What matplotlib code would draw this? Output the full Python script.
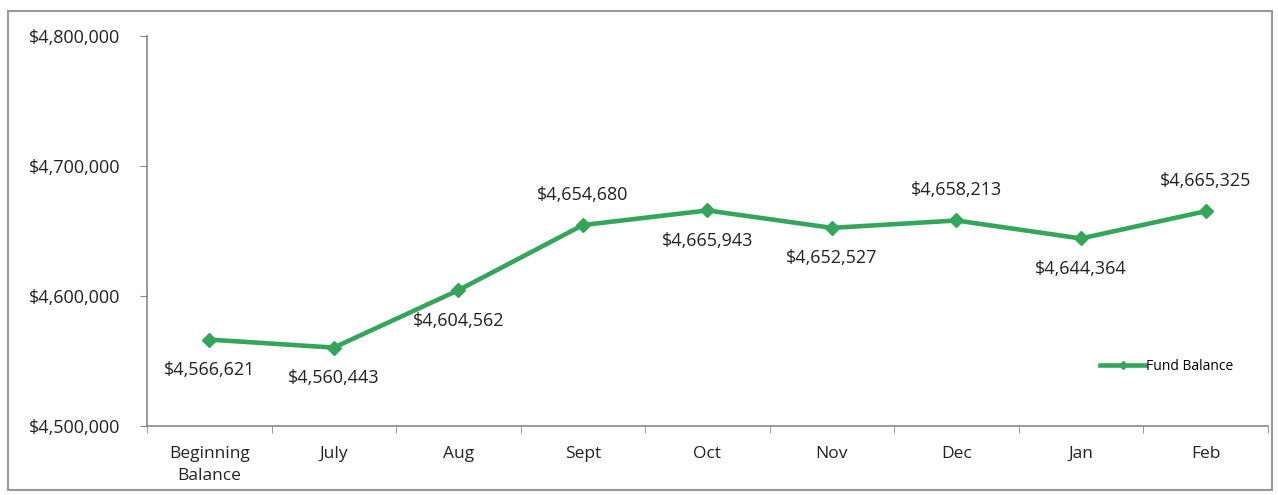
import matplotlib.pyplot as plt
import matplotlib.patches as patches
from matplotlib.ticker import FuncFormatter

# Data
months = ['Beginning\nBalance', 'July', 'Aug', 'Sept', 'Oct', 'Nov', 'Dec', 'Jan', 'Feb']
fund_balance = [4566621, 4560443, 4604562, 4654680, 4665943, 4652527, 4658213, 4644364, 4665325]
label_side = ['below', 'below', 'below', 'above', 'below', 'below', 'above', 'below', 'above']
y_ticks = [4500000, 4600000, 4700000, 4800000]

plt.rcParams['font.family'] = ['Open Sans', 'DejaVu Sans']

fig = plt.figure(figsize=(12.78, 4.95), dpi=100)
ax = fig.add_axes([0.115, 0.139, 0.877, 0.788])

green = '#34A65C'
x = list(range(len(months)))
ax.plot(x, fund_balance, color=green, linewidth=3.3, marker='D', markersize=7.5,
        label='Fund Balance', zorder=3)

# data labels
for xi, val, side in zip(x, fund_balance, label_side):
    dy = 22 if side == 'above' else -22
    ax.annotate(f"${val:,.0f}", (xi, val), xytext=(0, dy), textcoords='offset points',
                ha='center', va='center', fontsize=13, color='#222222')

ax.set_xlim(-0.5, len(months) - 0.5)
ax.set_ylim(4500000, 4800000)
ax.set_yticks(y_ticks)
ax.yaxis.set_major_formatter(FuncFormatter(lambda v, p: f"${v:,.0f}"))

ax.set_xticks(x)
ax.set_xticklabels(months, fontsize=12.5, color='#222222', linespacing=1.55)
ax.set_xticks([i - 0.5 for i in range(len(months) + 1)], minor=True)
ax.tick_params(axis='x', which='major', length=0, pad=14)
ax.tick_params(axis='x', which='minor', length=5, color='#888888', direction='out')
ax.tick_params(axis='y', length=5, color='#888888', labelsize=13, labelcolor='#222222', pad=14)

for side in ['top', 'right']:
    ax.spines[side].set_visible(False)
for side in ['left', 'bottom']:
    ax.spines[side].set_color('#888888')
    ax.spines[side].set_linewidth(1.2)

leg = ax.legend(loc='center', bbox_to_anchor=(0.91, 0.154), frameon=False,
                fontsize=10, handlelength=3.2, handletextpad=0.1, markerscale=0.6)

# outer chart border
fig.patches.append(patches.Rectangle((0.006, 0.01), 0.989, 0.967, transform=fig.transFigure,
                                     fill=False, edgecolor='#999999', linewidth=1.5))

fig.savefig('out.png', dpi=100, facecolor='white')
